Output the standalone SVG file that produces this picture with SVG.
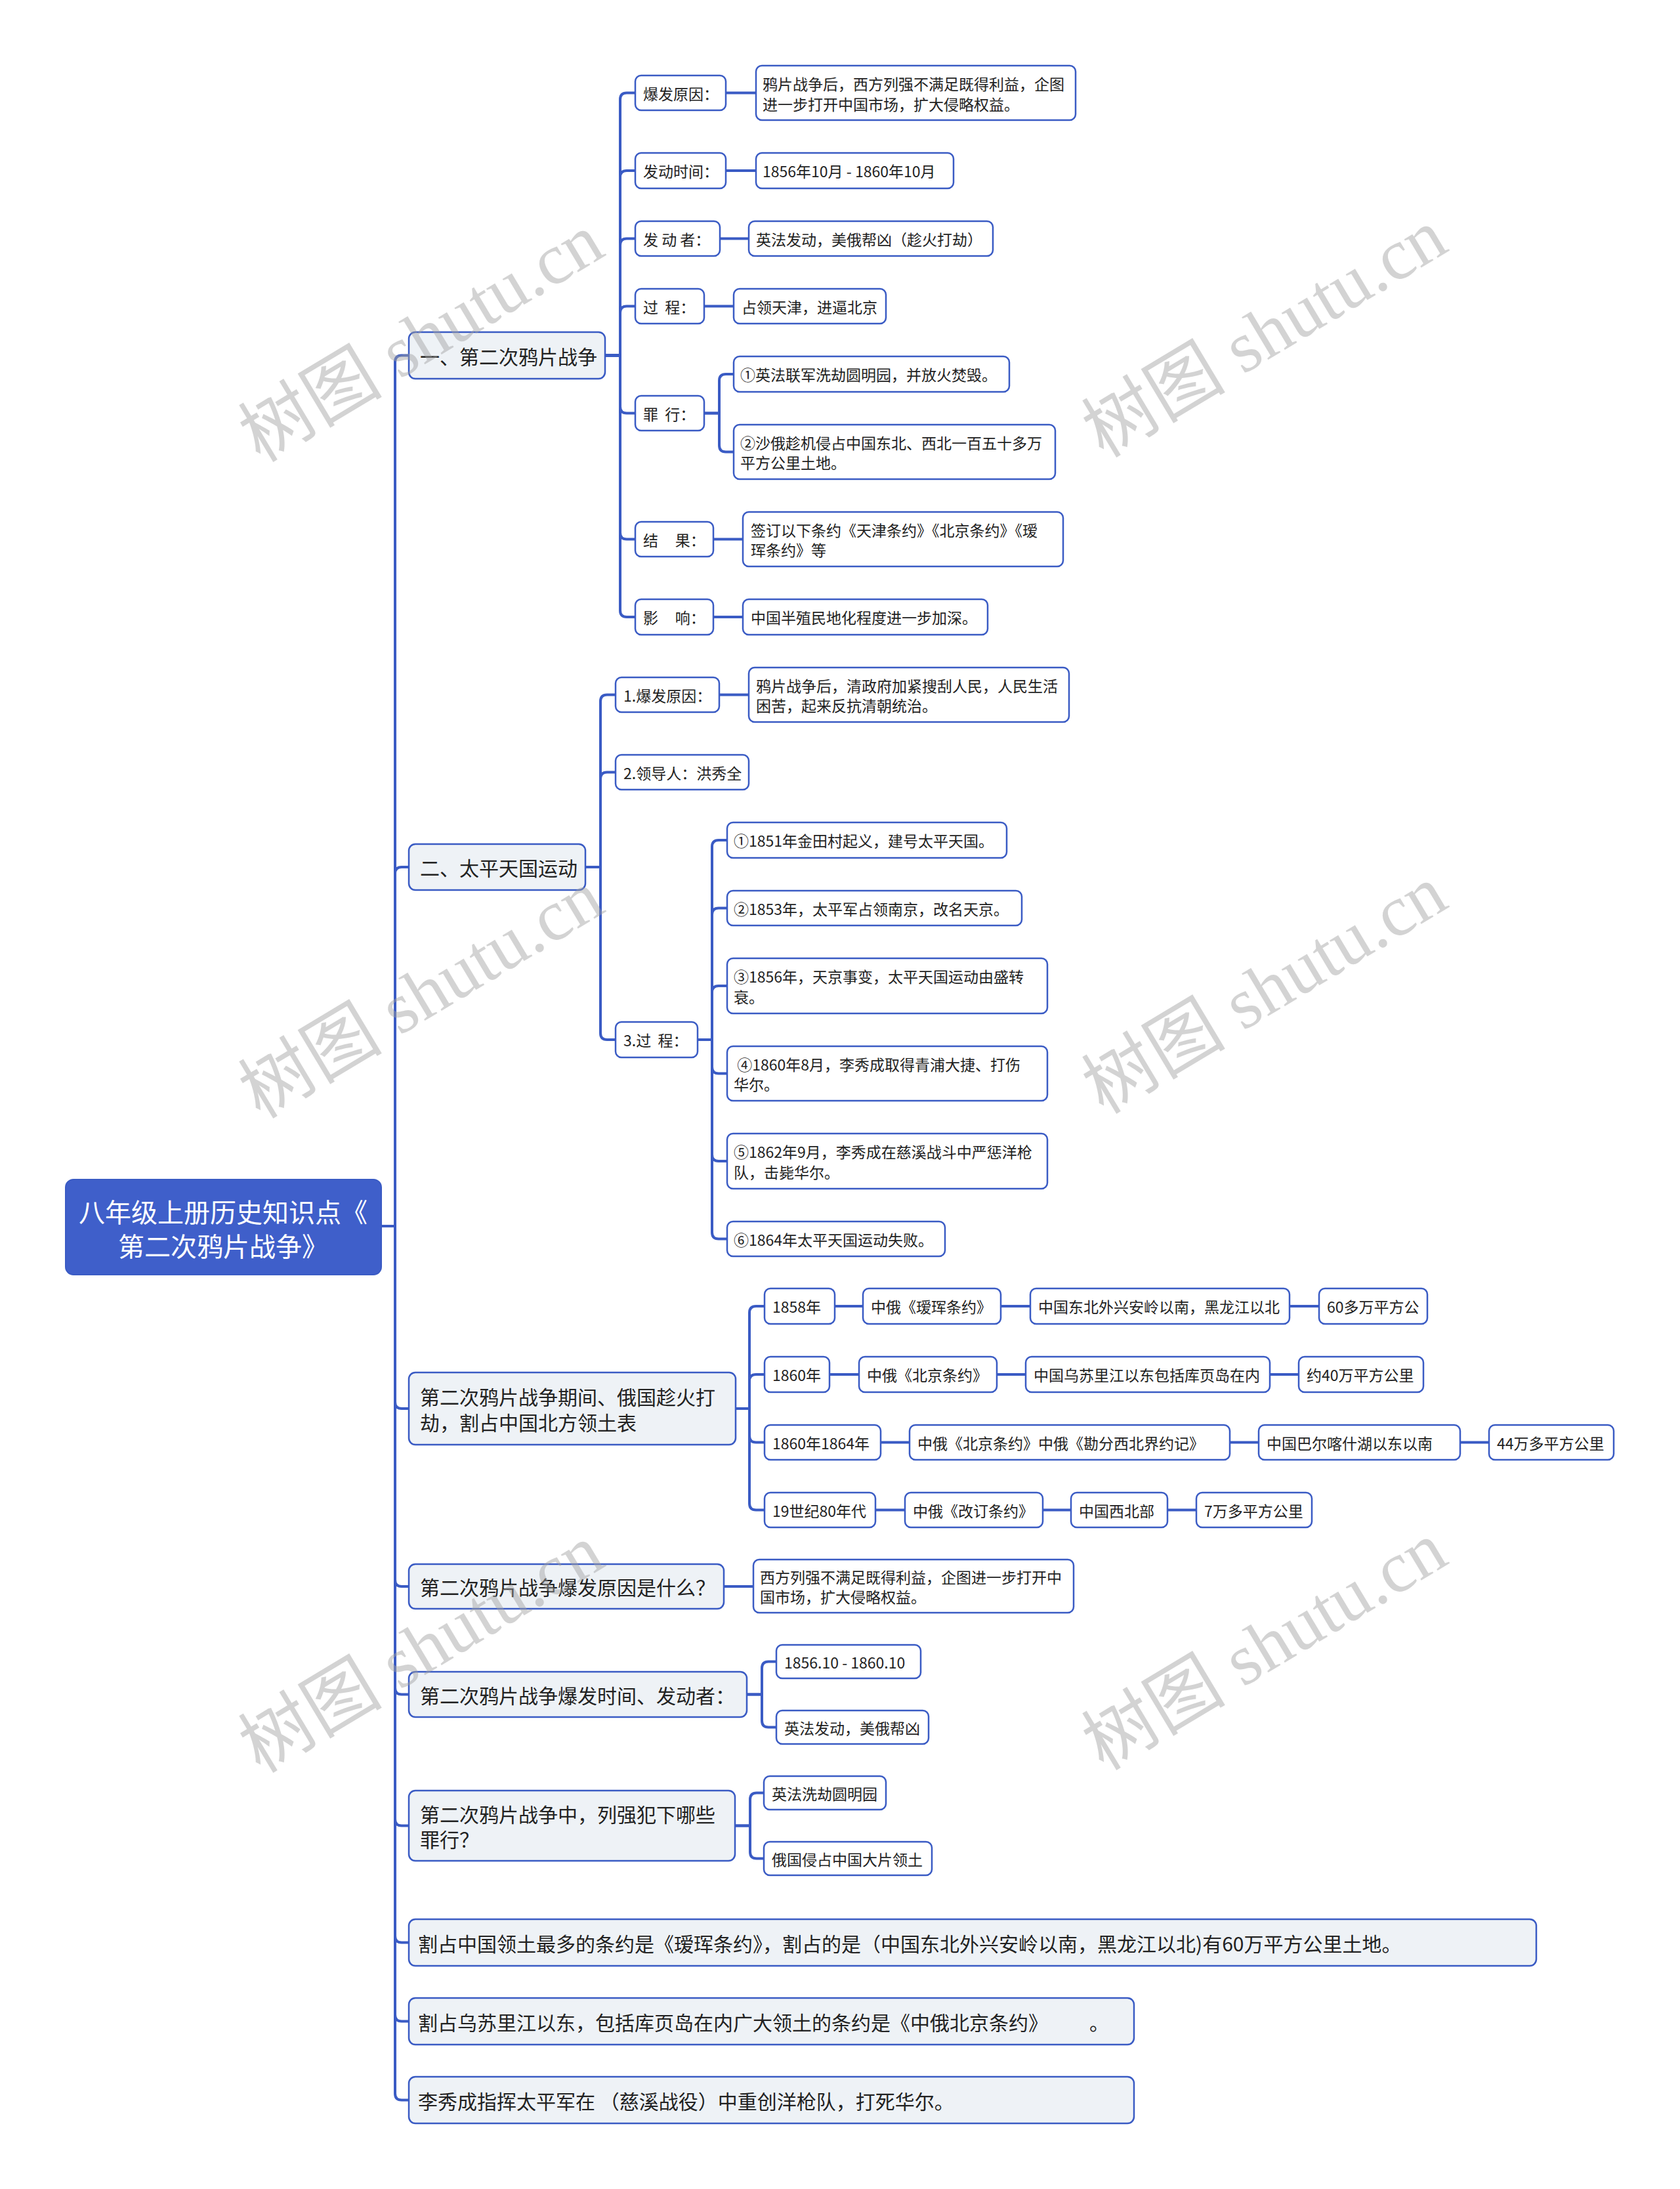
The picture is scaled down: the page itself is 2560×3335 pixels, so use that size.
<svg xmlns="http://www.w3.org/2000/svg" width="2560" height="3335" viewBox="0 0 2560 3335">
<style>
.bg{fill:#ffffff}
.c{fill:none;stroke:#3A5BC4;stroke-width:4;stroke-linecap:round;stroke-linejoin:round}
.n1{fill:#EEF2F6;stroke:#3A5BC4;stroke-width:2.5}
.n2{fill:#ffffff;stroke:#3A5BC4;stroke-width:2.5}
.root{fill:#3F5FCA;stroke:#3A5BC4;stroke-width:2}
text{font-family:"Noto Sans CJK SC","Microsoft YaHei",sans-serif;dominant-baseline:central;fill:#222222}
.t0{font-size:40px;fill:#ffffff;text-anchor:middle}
.t1{font-size:30px}
.t2{font-size:23px}
.wm{font-family:"Liberation Serif","Noto Sans CJK SC",serif;font-size:110px;fill:#A0A0A0;opacity:0.45;text-anchor:middle}
</style>
<rect class="bg" x="0" y="0" width="2560" height="3335"/>

<g id="connectors">
<!-- root to level 1 -->
<path class="c" d="M581 1868 H602 V551.5 Q602 541.5 612 541.5 H623"/>
<path class="c" d="M581 1868 H602 V1331 Q602 1321 612 1321 H623"/>
<path class="c" d="M581 1868 H602 V2136 Q602 2146 612 2146 H623"/>
<path class="c" d="M581 1868 H602 V2407 Q602 2417 612 2417 H623"/>
<path class="c" d="M581 1868 H602 V2571.5 Q602 2581.5 612 2581.5 H623"/>
<path class="c" d="M581 1868 H602 V2771.5 Q602 2781.5 612 2781.5 H623"/>
<path class="c" d="M581 1868 H602 V2949.5 Q602 2959.5 612 2959.5 H623"/>
<path class="c" d="M581 1868 H602 V3069.5 Q602 3079.5 612 3079.5 H623"/>
<path class="c" d="M581 1868 H602 V3189.5 Q602 3199.5 612 3199.5 H623"/>
<!-- group 一 -->
<path class="c" d="M922 541.5 H945 V151.5 Q945 141.5 955 141.5 H968"/>
<path class="c" d="M922 541.5 H945 V270 Q945 260 955 260 H968"/>
<path class="c" d="M922 541.5 H945 V373.5 Q945 363.5 955 363.5 H968"/>
<path class="c" d="M922 541.5 H945 V476.5 Q945 466.5 955 466.5 H968"/>
<path class="c" d="M922 541.5 H945 V619.5 Q945 629.5 955 629.5 H968"/>
<path class="c" d="M922 541.5 H945 V811.5 Q945 821.5 955 821.5 H968"/>
<path class="c" d="M922 541.5 H945 V930 Q945 940 955 940 H968"/>
<path class="c" d="M1106 141.5 H1152"/>
<path class="c" d="M1106 260 H1152"/>
<path class="c" d="M1097 363.5 H1141"/>
<path class="c" d="M1073 466.5 H1118"/>
<path class="c" d="M1073 629.5 H1096 V580 Q1096 570 1106 570 H1118"/>
<path class="c" d="M1073 629.5 H1096 V678.5 Q1096 688.5 1106 688.5 H1118"/>
<path class="c" d="M1087 821.5 H1132"/>
<path class="c" d="M1087 940 H1132"/>
<!-- group 二 -->
<path class="c" d="M892 1321 H915 V1068.5 Q915 1058.5 925 1058.5 H938"/>
<path class="c" d="M892 1321 H915 V1186.5 Q915 1176.5 925 1176.5 H938"/>
<path class="c" d="M892 1321 H915 V1574 Q915 1584 925 1584 H938"/>
<path class="c" d="M1096 1058.5 H1141"/>
<path class="c" d="M1063 1584 H1085 V1290 Q1085 1280 1095 1280 H1108"/>
<path class="c" d="M1063 1584 H1085 V1393.5 Q1085 1383.5 1095 1383.5 H1108"/>
<path class="c" d="M1063 1584 H1085 V1512 Q1085 1502 1095 1502 H1108"/>
<path class="c" d="M1063 1584 H1085 V1625.5 Q1085 1635.5 1095 1635.5 H1108"/>
<path class="c" d="M1063 1584 H1085 V1759 Q1085 1769 1095 1769 H1108"/>
<path class="c" d="M1063 1584 H1085 V1877.5 Q1085 1887.5 1095 1887.5 H1108"/>
<!-- group table -->
<path class="c" d="M1121 2146 H1142 V2000 Q1142 1990 1152 1990 H1165"/>
<path class="c" d="M1121 2146 H1142 V2104 Q1142 2094 1152 2094 H1165"/>
<path class="c" d="M1121 2146 H1142 V2187.5 Q1142 2197.5 1152 2197.5 H1165"/>
<path class="c" d="M1121 2146 H1142 V2290.5 Q1142 2300.5 1152 2300.5 H1165"/>
<path class="c" d="M1272 1990 H1315 M1525 1990 H1570 M1965 1990 H2010"/>
<path class="c" d="M1264 2094 H1309 M1519 2094 H1563 M1935 2094 H1979"/>
<path class="c" d="M1342 2197.5 H1386 M1874 2197.5 H1918 M2225 2197.5 H2269"/>
<path class="c" d="M1334 2300.5 H1379 M1589 2300.5 H1632 M1779 2300.5 H1823"/>
<!-- lower groups -->
<path class="c" d="M1103 2417 H1148"/>
<path class="c" d="M1138 2581.5 H1161 V2541.5 Q1161 2531.5 1171 2531.5 H1183"/>
<path class="c" d="M1138 2581.5 H1161 V2621.5 Q1161 2631.5 1171 2631.5 H1183"/>
<path class="c" d="M1120 2781.5 H1143 V2741.5 Q1143 2731.5 1153 2731.5 H1164"/>
<path class="c" d="M1120 2781.5 H1143 V2821.5 Q1143 2831.5 1153 2831.5 H1164"/>
</g>

<g id="root"><rect class="root" x="100" y="1797" width="481" height="145" rx="12"/>
<text class="t0" x="340" y="1845">八年级上册历史知识点《</text>
<text class="t0" x="340" y="1897">第二次鸦片战争》</text></g>

<g id="n-war"><rect class="n1" x="623" y="506" width="299" height="71" rx="10"/><text class="t1" x="640" y="541.5">一、第二次鸦片战争</text></g>
<g id="n-war-cause"><rect class="n2" x="968" y="115" width="138" height="53" rx="9"/><text class="t2" x="980" y="141.5">爆发原因：</text></g>
<g id="n-war-cause-d"><rect class="n2" x="1152" y="100" width="487" height="83" rx="9"/><text class="t2" x="1162" y="127">鸦片战争后，西方列强不满足既得利益，企图</text><text class="t2" x="1162" y="158">进一步打开中国市场，扩大侵略权益。</text></g>
<g id="n-war-time"><rect class="n2" x="968" y="233" width="138" height="54" rx="9"/><text class="t2" x="980" y="260">发动时间：</text></g>
<g id="n-war-time-d"><rect class="n2" x="1152" y="233" width="301" height="54" rx="9"/><text class="t2" x="1162" y="260">1856年10月 - 1860年10月</text></g>
<g id="n-war-who"><rect class="n2" x="968" y="337" width="129" height="53" rx="9"/><text class="t2" x="980" y="363.5" xml:space="preserve">发 动 者：</text></g>
<g id="n-war-who-d"><rect class="n2" x="1141" y="337" width="372" height="53" rx="9"/><text class="t2" x="1152" y="363.5">英法发动，美俄帮凶（趁火打劫）</text></g>
<g id="n-war-proc"><rect class="n2" x="968" y="440" width="105" height="53" rx="9"/><text class="t2" x="980" y="466.5" xml:space="preserve">过  程：</text></g>
<g id="n-war-proc-d"><rect class="n2" x="1118" y="440" width="232" height="53" rx="9"/><text class="t2" x="1130" y="466.5">占领天津，进逼北京</text></g>
<g id="n-war-crime"><rect class="n2" x="968" y="603" width="105" height="53" rx="9"/><text class="t2" x="980" y="629.5" xml:space="preserve">罪  行：</text></g>
<g id="n-war-crime-1"><rect class="n2" x="1118" y="543" width="420" height="54" rx="9"/><text class="t2" x="1128" y="570">①英法联军洗劫圆明园，并放火焚毁。</text></g>
<g id="n-war-crime-2"><rect class="n2" x="1118" y="647" width="490" height="83" rx="9"/><text class="t2" x="1128" y="674">②沙俄趁机侵占中国东北、西北一百五十多万</text><text class="t2" x="1128" y="704">平方公里土地。</text></g>
<g id="n-war-result"><rect class="n2" x="968" y="795" width="119" height="53" rx="9"/><text class="t2" x="980" y="821.5" xml:space="preserve">结     果：</text></g>
<g id="n-war-result-d"><rect class="n2" x="1132" y="780" width="488" height="83" rx="9"/><text class="t2" x="1144" y="807">签订以下条约《天津条约》《北京条约》《瑷</text><text class="t2" x="1144" y="837">珲条约》等</text></g>
<g id="n-war-effect"><rect class="n2" x="968" y="913" width="119" height="54" rx="9"/><text class="t2" x="980" y="940" xml:space="preserve">影     响：</text></g>
<g id="n-war-effect-d"><rect class="n2" x="1132" y="913" width="373" height="54" rx="9"/><text class="t2" x="1144" y="940">中国半殖民地化程度进一步加深。</text></g>

<g id="n-tp"><rect class="n1" x="623" y="1286" width="269" height="70" rx="10"/><text class="t1" x="640" y="1321">二、太平天国运动</text></g>
<g id="n-tp-cause"><rect class="n2" x="938" y="1032" width="158" height="53" rx="9"/><text class="t2" x="950" y="1058.5">1.爆发原因：</text></g>
<g id="n-tp-cause-d"><rect class="n2" x="1141" y="1017" width="488" height="83" rx="9"/><text class="t2" x="1152" y="1044">鸦片战争后，清政府加紧搜刮人民，人民生活</text><text class="t2" x="1152" y="1074">困苦，起来反抗清朝统治。</text></g>
<g id="n-tp-leader"><rect class="n2" x="938" y="1150" width="203" height="53" rx="9"/><text class="t2" x="950" y="1176.5">2.领导人：洪秀全</text></g>
<g id="n-tp-proc"><rect class="n2" x="938" y="1557" width="125" height="54" rx="9"/><text class="t2" x="950" y="1584" xml:space="preserve">3.过  程：</text></g>
<g id="n-tp-p1"><rect class="n2" x="1108" y="1253" width="426" height="54" rx="9"/><text class="t2" x="1118" y="1280">①1851年金田村起义，建号太平天国。</text></g>
<g id="n-tp-p2"><rect class="n2" x="1108" y="1357" width="449" height="53" rx="9"/><text class="t2" x="1118" y="1383.5">②1853年，太平军占领南京，改名天京。</text></g>
<g id="n-tp-p3"><rect class="n2" x="1108" y="1460" width="488" height="84" rx="9"/><text class="t2" x="1118" y="1487">③1856年，天京事变，太平天国运动由盛转</text><text class="t2" x="1118" y="1518">衰。</text></g>
<g id="n-tp-p4"><rect class="n2" x="1108" y="1594" width="488" height="83" rx="9"/><text class="t2" x="1118" y="1621" xml:space="preserve"> ④1860年8月，李秀成取得青浦大捷、打伤</text><text class="t2" x="1118" y="1651">华尔。</text></g>
<g id="n-tp-p5"><rect class="n2" x="1108" y="1727" width="488" height="84" rx="9"/><text class="t2" x="1118" y="1754">⑤1862年9月，李秀成在慈溪战斗中严惩洋枪</text><text class="t2" x="1118" y="1785">队，击毙华尔。</text></g>
<g id="n-tp-p6"><rect class="n2" x="1108" y="1861" width="332" height="53" rx="9"/><text class="t2" x="1118" y="1887.5">⑥1864年太平天国运动失败。</text></g>

<g id="n-table"><rect class="n1" x="623" y="2091" width="498" height="110" rx="10"/><text class="t1" x="640" y="2127">第二次鸦片战争期间、俄国趁火打</text><text class="t1" x="640" y="2166">劫，割占中国北方领土表</text></g>
<g id="r1-a"><rect class="n2" x="1165" y="1963" width="107" height="54" rx="9"/><text class="t2" x="1177" y="1990">1858年</text></g>
<g id="r1-b"><rect class="n2" x="1315" y="1963" width="210" height="54" rx="9"/><text class="t2" x="1327" y="1990">中俄《瑷珲条约》</text></g>
<g id="r1-c"><rect class="n2" x="1570" y="1963" width="395" height="54" rx="9"/><text class="t2" x="1582" y="1990">中国东北外兴安岭以南，黑龙江以北</text></g>
<g id="r1-d"><rect class="n2" x="2010" y="1963" width="165" height="54" rx="9"/><text class="t2" x="2022" y="1990">60多万平方公</text></g>
<g id="r2-a"><rect class="n2" x="1165" y="2067" width="99" height="54" rx="9"/><text class="t2" x="1177" y="2094">1860年</text></g>
<g id="r2-b"><rect class="n2" x="1309" y="2067" width="210" height="54" rx="9"/><text class="t2" x="1321" y="2094">中俄《北京条约》</text></g>
<g id="r2-c"><rect class="n2" x="1563" y="2067" width="372" height="54" rx="9"/><text class="t2" x="1575" y="2094">中国乌苏里江以东包括库页岛在内</text></g>
<g id="r2-d"><rect class="n2" x="1979" y="2067" width="190" height="54" rx="9"/><text class="t2" x="1991" y="2094">约40万平方公里</text></g>
<g id="r3-a"><rect class="n2" x="1165" y="2171" width="177" height="53" rx="9"/><text class="t2" x="1177" y="2197.5">1860年1864年</text></g>
<g id="r3-b"><rect class="n2" x="1386" y="2171" width="488" height="53" rx="9"/><text class="t2" x="1398" y="2197.5">中俄《北京条约》中俄《勘分西北界约记》</text></g>
<g id="r3-c"><rect class="n2" x="1918" y="2171" width="307" height="53" rx="9"/><text class="t2" x="1930" y="2197.5">中国巴尔喀什湖以东以南</text></g>
<g id="r3-d"><rect class="n2" x="2269" y="2171" width="190" height="53" rx="9"/><text class="t2" x="2281" y="2197.5">44万多平方公里</text></g>
<g id="r4-a"><rect class="n2" x="1165" y="2274" width="169" height="53" rx="9"/><text class="t2" x="1177" y="2300.5">19世纪80年代</text></g>
<g id="r4-b"><rect class="n2" x="1379" y="2274" width="210" height="53" rx="9"/><text class="t2" x="1391" y="2300.5">中俄《改订条约》</text></g>
<g id="r4-c"><rect class="n2" x="1632" y="2274" width="147" height="53" rx="9"/><text class="t2" x="1644" y="2300.5">中国西北部</text></g>
<g id="r4-d"><rect class="n2" x="1823" y="2274" width="176" height="53" rx="9"/><text class="t2" x="1835" y="2300.5">7万多平方公里</text></g>

<g id="q-cause"><rect class="n1" x="623" y="2383" width="480" height="68" rx="10"/><text class="t1" x="640" y="2417">第二次鸦片战争爆发原因是什么？</text></g>
<g id="q-cause-d"><rect class="n2" x="1148" y="2376" width="488" height="81" rx="9"/><text class="t2" x="1158" y="2402">西方列强不满足既得利益，企图进一步打开中</text><text class="t2" x="1158" y="2432">国市场，扩大侵略权益。</text></g>
<g id="q-time"><rect class="n1" x="623" y="2547" width="515" height="69" rx="10"/><text class="t1" x="640" y="2581.5">第二次鸦片战争爆发时间、发动者：</text></g>
<g id="q-time-1"><rect class="n2" x="1183" y="2506" width="220" height="51" rx="9"/><text class="t2" x="1195" y="2531.5">1856.10 - 1860.10</text></g>
<g id="q-time-2"><rect class="n2" x="1183" y="2606" width="232" height="51" rx="9"/><text class="t2" x="1195" y="2631.5">英法发动，美俄帮凶</text></g>
<g id="q-crime"><rect class="n1" x="623" y="2728" width="497" height="107" rx="10"/><text class="t1" x="640" y="2763">第二次鸦片战争中，列强犯下哪些</text><text class="t1" x="640" y="2801">罪行？</text></g>
<g id="q-crime-1"><rect class="n2" x="1164" y="2706" width="186" height="51" rx="9"/><text class="t2" x="1176" y="2731.5">英法洗劫圆明园</text></g>
<g id="q-crime-2"><rect class="n2" x="1164" y="2806" width="256" height="51" rx="9"/><text class="t2" x="1176" y="2831.5">俄国侵占中国大片领土</text></g>
<g id="q-most"><rect class="n1" x="623" y="2924" width="1718" height="71" rx="10"/><text class="t1" x="637" y="2959.5">割占中国领土最多的条约是《瑷珲条约》，割占的是（中国东北外兴安岭以南，黑龙江以北)有60万平方公里土地。</text></g>
<g id="q-beijing"><rect class="n1" x="623" y="3044" width="1105" height="71" rx="10"/><text class="t1" x="637" y="3079.5">割占乌苏里江以东，包括库页岛在内广大领土的条约是《中俄北京条约》<tspan x="1660">。</tspan></text></g>
<g id="q-li"><rect class="n1" x="623" y="3164" width="1105" height="71" rx="10"/><text class="t1" x="637" y="3199.5" xml:space="preserve">李秀成指挥太平军在 （慈溪战役）中重创洋枪队，打死华尔。</text></g>

<g id="watermark">
<text class="wm" transform="translate(642,515) rotate(-31)">树图 shutu.cn</text>
<text class="wm" transform="translate(642,1515) rotate(-31)">树图 shutu.cn</text>
<text class="wm" transform="translate(642,2512) rotate(-31)">树图 shutu.cn</text>
<text class="wm" transform="translate(1927,508) rotate(-31)">树图 shutu.cn</text>
<text class="wm" transform="translate(1927,1508) rotate(-31)">树图 shutu.cn</text>
<text class="wm" transform="translate(1927,2508) rotate(-31)">树图 shutu.cn</text>
</g>
</svg>
